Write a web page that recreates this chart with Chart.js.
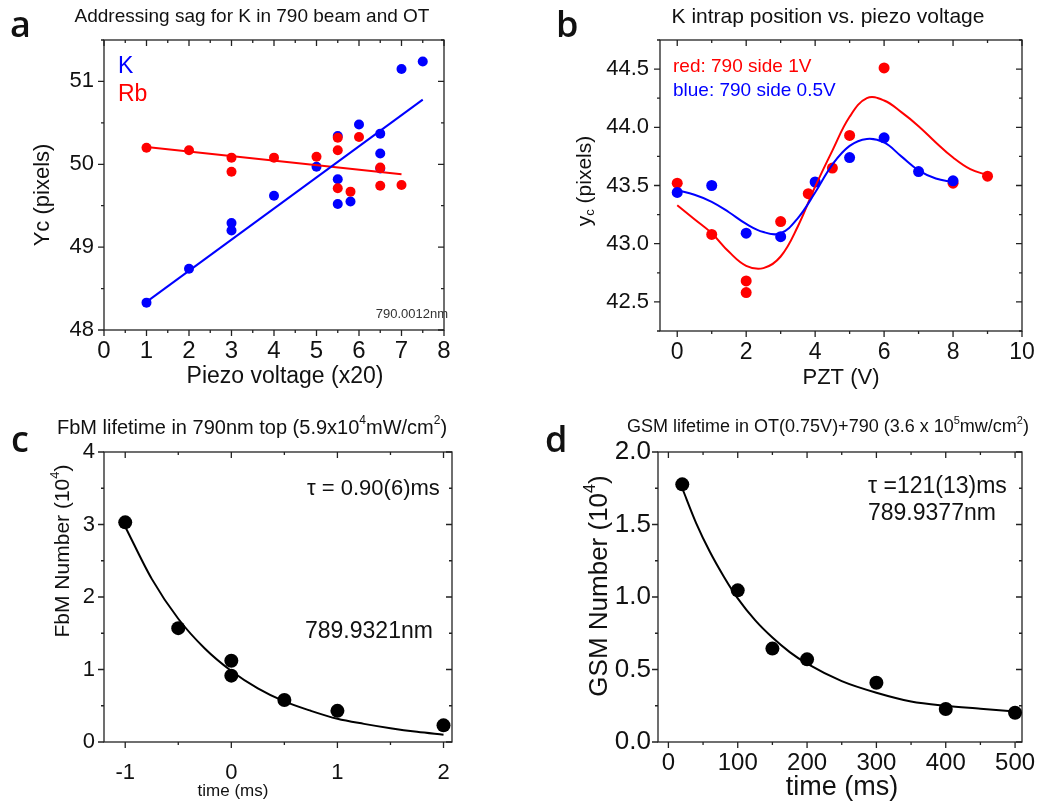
<!DOCTYPE html>
<html>
<head>
<meta charset="utf-8">
<script src="https://cdn.jsdelivr.net/npm/chart.js@4.4.0/dist/chart.umd.min.js"></script>
<style>
  html, body { margin: 0; padding: 0; background: #fff; }
  #fig { position: relative; width: 1060px; height: 801px; overflow: hidden; }
  #fig canvas { position: absolute; left: 0; top: 0; }
</style>
</head>
<body>
<div id="fig">
  <canvas id="chartA" width="1060" height="801"></canvas>
  <canvas id="chartB" width="1060" height="801"></canvas>
  <canvas id="chartC" width="1060" height="801"></canvas>
  <canvas id="chartD" width="1060" height="801"></canvas>
</div>
<script>
// ---- panel a : sag vs piezo voltage ----
const sagVoltK = [1, 2, 3, 3, 4, 5, 5.5, 5.5, 5.5, 5.8, 6, 6.5, 6.5, 6.5, 7, 7.5];
const sagYcK = [48.33, 48.74, 49.29, 49.20, 49.62, 49.97, 50.34, 49.82, 49.52, 49.55, 50.48, 50.37, 50.13, 49.95, 51.15, 51.24];
const sagVoltRb = [1, 2, 3, 3, 4, 5, 5.5, 5.5, 5.5, 5.8, 6, 6.5, 6.5, 7];
const sagYcRb = [50.20, 50.17, 50.08, 49.91, 50.08, 50.09, 50.32, 50.17, 49.71, 49.67, 50.33, 49.96, 49.74, 49.75];
const fitVoltK = [1, 7.5];
const fitYcK = [48.34, 50.78];
const fitVoltRb = [1, 7];
const fitYcRb = [50.21, 49.88];
const sagVoltTicks = [0, 1, 2, 3, 4, 5, 6, 7, 8];
const sagYcTicks = [48, 49, 50, 51];

// ---- panel b : K intrap position vs PZT ----
const pztRed = [0, 1, 2, 2, 3, 3.8, 4.5, 5, 6, 8, 9];
const ycRed = [43.52, 43.08, 42.68, 42.58, 43.19, 43.43, 43.65, 43.93, 44.51, 43.52, 43.58];
const pztBlue = [0, 1, 2, 3, 4, 5, 6, 7, 8];
const ycBlue = [43.44, 43.50, 43.09, 43.06, 43.53, 43.74, 43.91, 43.62, 43.54];
const curvePztRed = [0, 0.5, 1, 1.5, 2, 2.5, 3, 3.5, 4, 4.5, 5, 5.5, 6, 6.5, 7, 7.5, 8, 8.5, 9];
const curveYcRed = [43.33, 43.21, 43.09, 42.93, 42.81, 42.79, 42.89, 43.15, 43.49, 43.80, 44.09, 44.25, 44.23, 44.13, 44.01, 43.87, 43.74, 43.64, 43.59];
const curvePztBlue = [0, 0.5, 1, 1.5, 2, 2.5, 3, 3.5, 4, 4.5, 5, 5.5, 6, 6.5, 7, 7.5, 8];
const curveYcBlue = [43.46, 43.42, 43.36, 43.27, 43.17, 43.10, 43.09, 43.22, 43.44, 43.68, 43.84, 43.90, 43.87, 43.75, 43.63, 43.56, 43.53];
const pztTicks = [0, 2, 4, 6, 8, 10];
const ycTicks = [42.5, 43.0, 43.5, 44.0, 44.5];

// ---- panel c : FbM lifetime ----
const fbmTime = [-1, -0.5, 0, 0, 0.5, 1, 2];
const fbmNum = [3.03, 1.57, 1.12, 0.915, 0.58, 0.43, 0.23];
const fbmFitTime = [-1, -0.75, -0.5, -0.25, 0, 0.25, 0.5, 0.75, 1, 1.25, 1.5, 1.75, 2];
const fbmFitNum = [2.97, 2.25, 1.70, 1.29, 0.98, 0.74, 0.56, 0.43, 0.32, 0.25, 0.19, 0.14, 0.10];
const fbmTimeTicks = [-1, 0, 1, 2];
const fbmNumTicks = [0, 1, 2, 3, 4];

// ---- panel d : GSM lifetime ----
const gsmTime = [20, 100, 150, 200, 300, 400, 500];
const gsmNum = [1.777, 1.046, 0.644, 0.570, 0.409, 0.228, 0.202];
const gsmFitTime = [20, 40, 60, 80, 100, 125, 150, 175, 200, 250, 300, 350, 400, 450, 500];
const gsmFitNum = [1.75, 1.51, 1.31, 1.14, 0.99, 0.84, 0.72, 0.62, 0.54, 0.42, 0.34, 0.28, 0.25, 0.23, 0.21];
const gsmTimeTicks = [0, 100, 200, 300, 400, 500];
const gsmNumTicks = [0, 0.5, 1.0, 1.5, 2.0];

const W = 1060, H = 801;
const FONT = '"Liberation Sans", Arial, sans-serif';
const BLUE = '#0000ff', RED = '#ff0000', INK = '#111';
Chart.defaults.font.family = FONT;

const pts = (xs, ys) => xs.map((v, i) => ({ x: v, y: ys[i] }));

// plot boxes in page pixels
const boxes = {
  chartA: { l: 104, t: 40, r: 444, b: 330, padL: 0, xMinor: 0.5, yMinor: 0.5 },
  chartB: { l: 660, t: 40, r: 1022, b: 331, padL: 530, xMinor: 1, yMinor: 0.25 },
  chartC: { l: 104, t: 452, r: 452, b: 742, padL: 0, xMinor: 0.5, yMinor: 0.5 },
  chartD: { l: 658, t: 452, r: 1022, b: 742, padL: 530, xMinor: 50, yMinor: 0.25 }
};

// free text: panel letters, titles, axis titles, notes
const texts = {
  chartA: [
    { parts: ['a'], x: 10, y: 37, size: 36, weight: 600, family: '"Open Sans"', align: 'left', base: 'alphabetic' },
    { parts: ['Addressing sag for K in 790 beam and OT'], x: 252, y: 17, size: 19 },
    { parts: ['Yc (pixels)'], x: 43, y: 195, size: 22, rot: -Math.PI / 2 },
    { parts: ['Piezo voltage (x20)'], x: 285, y: 377, size: 23 },
    { parts: ['K'], x: 118, y: 67, size: 23, color: BLUE, align: 'left' },
    { parts: ['Rb'], x: 118, y: 95, size: 23, color: RED, align: 'left' },
    { parts: ['790.0012nm'], x: 448, y: 314, size: 13, color: '#333', align: 'right' }
  ],
  chartB: [
    { parts: ['b'], x: 556, y: 37, size: 36, weight: 600, family: '"Open Sans"', align: 'left', base: 'alphabetic' },
    { parts: ['K intrap position vs. piezo voltage'], x: 828, y: 17, size: 21 },
    { parts: ['y', { t: 'c', k: 'sub' }, ' (pixels)'], x: 585, y: 181, size: 21, rot: -Math.PI / 2 },
    { parts: ['PZT (V)'], x: 841, y: 378, size: 22 },
    { parts: ['red: 790 side 1V'], x: 673, y: 67, size: 19, color: RED, align: 'left' },
    { parts: ['blue: 790 side 0.5V'], x: 673, y: 91, size: 19, color: BLUE, align: 'left' }
  ],
  chartC: [
    { parts: ['c'], x: 11, y: 452, size: 36, weight: 600, family: '"Open Sans"', align: 'left', base: 'alphabetic' },
    { parts: ['FbM lifetime in 790nm top (5.9x10', { t: '4', k: 'sup' }, 'mW/cm', { t: '2', k: 'sup' }, ')'], x: 252, y: 428, size: 20 },
    { parts: ['FbM Number (10', { t: '4', k: 'sup' }, ')'], x: 63, y: 551, size: 21, rot: -Math.PI / 2 },
    { parts: ['time (ms)'], x: 233, y: 791, size: 17 },
    { parts: ['\u03c4 = 0.90(6)ms'], x: 307, y: 489, size: 22, align: 'left' },
    { parts: ['789.9321nm'], x: 305, y: 632, size: 23, align: 'left' }
  ],
  chartD: [
    { parts: ['d'], x: 545, y: 452, size: 36, weight: 600, family: '"Open Sans"', align: 'left', base: 'alphabetic' },
    { parts: ['GSM lifetime in OT(0.75V)+790 (3.6 x 10', { t: '5', k: 'sup' }, 'mw/cm', { t: '2', k: 'sup' }, ')'], x: 828, y: 427, size: 18 },
    { parts: ['GSM Number (10', { t: '4', k: 'sup' }, ')'], x: 600, y: 586, size: 26, rot: -Math.PI / 2 },
    { parts: ['time (ms)'], x: 842, y: 788, size: 27 },
    { parts: ['\u03c4 =121(13)ms'], x: 868, y: 487, size: 23, align: 'left' },
    { parts: ['789.9377nm'], x: 868, y: 514, size: 23, align: 'left' }
  ]
};

function drawRich(ctx, it) {
  const size = it.size, fam = it.family || FONT, wt = it.weight || 400;
  ctx.save();
  ctx.translate(it.x, it.y);
  if (it.rot) ctx.rotate(it.rot);
  ctx.fillStyle = it.color || INK;
  ctx.textBaseline = it.base || 'middle';
  ctx.textAlign = 'left';
  let w = 0;
  const segs = it.parts.map(p => {
    const s = typeof p === 'string' ? { t: p, k: '' } : p;
    const fs = s.k ? Math.round(size * 0.62) : size;
    ctx.font = wt + ' ' + fs + 'px ' + fam;
    const sw = ctx.measureText(s.t).width;
    w += sw;
    return { t: s.t, k: s.k, fs, sw };
  });
  const align = it.align || 'center';
  let cx = align === 'center' ? -w / 2 : align === 'right' ? -w : 0;
  segs.forEach(s => {
    ctx.font = wt + ' ' + s.fs + 'px ' + fam;
    const dy = s.k === 'sup' ? -size * 0.36 : s.k === 'sub' ? size * 0.28 : 0;
    ctx.fillText(s.t, cx, dy);
    cx += s.sw;
  });
  ctx.restore();
}

// box round the plot with ticks: outward on left/bottom, inward on top/right
const framePlugin = {
  id: 'frame',
  beforeDatasetsDraw(chart) {
    const bx = boxes[chart.canvas.id];
    const { ctx, chartArea: a } = chart;
    const x = chart.scales.x, y = chart.scales.y;
    const xMajor = x.ticks.map(t => t.value);
    const yMajor = y.ticks.map(t => t.value);
    ctx.save();
    ctx.strokeStyle = '#222';
    ctx.lineWidth = 1.3;
    ctx.strokeRect(a.left, a.top, a.right - a.left, a.bottom - a.top);
    ctx.beginPath();
    for (let i = Math.ceil(x.min / bx.xMinor - 1e-9); i * bx.xMinor <= x.max + 1e-9; i++) {
      const v = i * bx.xMinor;
      const len = xMajor.some(m => Math.abs(m - v) < 1e-6) ? 6 : 3;
      const px = x.getPixelForValue(v);
      ctx.moveTo(px, a.bottom); ctx.lineTo(px, a.bottom + len);
      ctx.moveTo(px, a.top); ctx.lineTo(px, a.top + len);
    }
    for (let i = Math.ceil(y.min / bx.yMinor - 1e-9); i * bx.yMinor <= y.max + 1e-9; i++) {
      const v = i * bx.yMinor;
      const len = yMajor.some(m => Math.abs(m - v) < 1e-6) ? 6 : 3;
      const py = y.getPixelForValue(v);
      ctx.moveTo(a.left, py); ctx.lineTo(a.left - len, py);
      ctx.moveTo(a.right, py); ctx.lineTo(a.right - len, py);
    }
    ctx.stroke();
    ctx.restore();
  }
};

const textPlugin = {
  id: 'figText',
  afterDraw(chart) {
    texts[chart.canvas.id].forEach(it => drawRich(chart.ctx, it));
  }
};

function dots(data, color, r) {
  return { data, backgroundColor: color, borderColor: color, pointRadius: r, pointHoverRadius: r, pointBorderWidth: 0, clip: false };
}
function curve(data, color, smooth) {
  const ds = { data, showLine: true, borderColor: color, borderWidth: 2, pointRadius: 0, pointHoverRadius: 0, fill: false, clip: false };
  if (smooth) ds.tension = 0.4;
  else ds.cubicInterpolationMode = 'monotone';
  return ds;
}

function makeChart(id, datasets, xr, yr) {
  const bx = boxes[id];
  return new Chart(document.getElementById(id), {
    type: 'scatter',
    data: { datasets },
    options: {
      responsive: false,
      animation: false,
      events: [],
      layout: { padding: { left: bx.padL, top: bx.t, right: W - bx.r, bottom: 0 } },
      plugins: { legend: { display: false }, tooltip: { enabled: false } },
      scales: {
        x: {
          type: 'linear', min: xr.min, max: xr.max,
          afterBuildTicks: s => { s.ticks = xr.ticks.map(v => ({ value: v })); },
          afterFit: s => { s.height = H - bx.b; },
          grid: { display: false, drawTicks: false },
          border: { display: false },
          ticks: { autoSkip: false, maxRotation: 0, minRotation: 0,
                   padding: xr.pad, color: INK, font: { size: xr.size }, callback: xr.fmt || (v => String(v)) }
        },
        y: {
          type: 'linear', min: yr.min, max: yr.max,
          afterBuildTicks: s => { s.ticks = yr.ticks.map(v => ({ value: v })); },
          afterFit: s => { s.width = bx.l - bx.padL; },
          grid: { display: false, drawTicks: false },
          border: { display: false },
          ticks: { autoSkip: false,
                   padding: yr.pad, color: INK, font: { size: yr.size }, callback: yr.fmt || (v => String(v)) }
        }
      }
    },
    plugins: [framePlugin, textPlugin]
  });
}

const oneDec = v => v.toFixed(1);

makeChart('chartA', [
  curve(pts(fitVoltK, fitYcK), BLUE),
  curve(pts(fitVoltRb, fitYcRb), RED),
  dots(pts(sagVoltRb, sagYcRb), RED, 5),
  dots(pts(sagVoltK, sagYcK), BLUE, 5)
], { min: 0, max: 8, ticks: sagVoltTicks, pad: 7, size: 24 },
   { min: 48, max: 51.5, ticks: sagYcTicks, pad: 10, size: 22 });

makeChart('chartB', [
  curve(pts(curvePztBlue, curveYcBlue), BLUE, true),
  curve(pts(curvePztRed, curveYcRed), RED, true),
  dots(pts(pztBlue, ycBlue), BLUE, 5.5),
  dots(pts(pztRed, ycRed), RED, 5.5)
], { min: -0.5, max: 10, ticks: pztTicks, pad: 8, size: 23 },
   { min: 42.25, max: 44.75, ticks: ycTicks, pad: 11, size: 22, fmt: oneDec });

makeChart('chartC', [
  curve(pts(fbmFitTime, fbmFitNum), '#000'),
  dots(pts(fbmTime, fbmNum), '#000', 7)
], { min: -1.2, max: 2.08, ticks: fbmTimeTicks, pad: 18, size: 22 },
   { min: 0, max: 4, ticks: fbmNumTicks, pad: 9, size: 22 });

makeChart('chartD', [
  curve(pts(gsmFitTime, gsmFitNum), '#000'),
  dots(pts(gsmTime, gsmNum), '#000', 7)
], { min: -15, max: 510, ticks: gsmTimeTicks, pad: 7, size: 24 },
   { min: 0, max: 2, ticks: gsmNumTicks, pad: 7, size: 26, fmt: oneDec });
</script>
</body>
</html>
